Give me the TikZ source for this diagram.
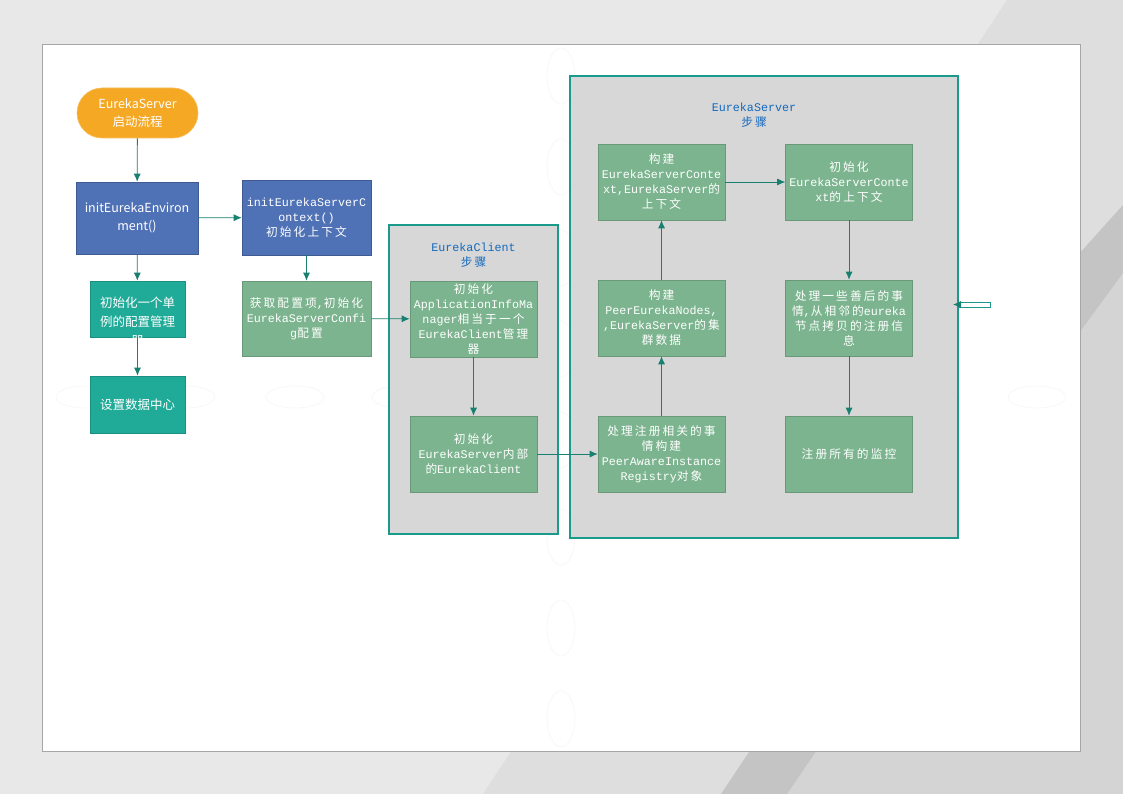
\documentclass[tikz,border=0pt]{standalone}
\usepackage{fontspec}
\usepackage{xcolor}
\usepackage{tikz}
\usetikzlibrary{arrows.meta,positioning,shapes.geometric}
\setmainfont{Noto Sans CJK SC}
\newfontfamily\zhfont[LetterSpace=18]{Noto Sans CJK SC}
\newfontfamily\monofont{Liberation Mono}
\newcommand{\zh}[1]{{\zhfont #1}}
\definecolor{pagegray}{RGB}{232,232,232}
\definecolor{stripegray}{RGB}{222,222,222}
\definecolor{bandgray}{RGB}{196,196,196}
\definecolor{edgegray}{RGB}{212,212,212}
\definecolor{myorange}{RGB}{245,168,35}
\definecolor{myblue}{RGB}{79,113,181}
\definecolor{myteal}{RGB}{32,170,152}
\definecolor{mygreen}{RGB}{123,180,142}
\definecolor{grpgray}{RGB}{215,215,215}
\definecolor{linkteal}{RGB}{24,128,112}
\definecolor{grpteal}{RGB}{26,154,138}
\definecolor{titleblue}{RGB}{20,105,190}

\begin{document}
\begin{tikzpicture}[x=1pt, y=-1pt,
    plainbox/.style={minimum width=122pt, minimum height=72pt, align=center,
        text=white, inner sep=0pt, line width=0.6pt,
        font=\fontsize{12.5}{18}\selectfont},
    startbox/.style={plainbox, rounded corners=25pt, minimum width=121pt,
        minimum height=50pt, fill=myorange, draw=myorange!75!white},
    bluebox/.style={plainbox, fill=myblue, draw=myblue!80!black},
    tealbox/.style={plainbox, minimum width=95pt, minimum height=56pt,
        fill=myteal, draw=myteal!85!black},
    stepbox/.style={plainbox, minimum width=127pt, minimum height=76pt,
        fill=mygreen, draw=mygreen!85!black,
        font=\monofont\fontsize{11.7}{15}\selectfont},
    grpbox/.style={fill=grpgray, draw=grpteal, line width=1.1pt},
    grptitle/.style={text=titleblue, align=center, inner sep=0pt,
        font=\monofont\fontsize{11.7}{15}\selectfont},
    pgmark/.style={draw=black!3, line width=0.7pt},
    flow/.style={-{Latex[length=8pt,width=7pt]}, line width=0.8pt, linkteal}
]
\useasboundingbox (0,0) rectangle (1123,794);
% page background
\fill[pagegray] (0,0) rectangle (1123,794);
\fill[stripegray] (1007,0) -- (1123,0) -- (1123,794) -- (483,794) -- cycle;
\fill[edgegray] (1123,273) -- (1123,794) -- (787,794) -- (817,751)
    -- (1000,700) -- (1000,400) -- (1060,359) -- cycle;
\fill[bandgray] (1123,205) -- (1123,273) -- (1060,359) -- (1060,275) -- cycle;
\fill[bandgray] (757,740) -- (824,740) -- (787,794) -- (721,794) -- cycle;
\draw[fill=white, draw=black!35, line width=0.8pt] (42,44) rectangle (1080,751);
\foreach \yy in {76,167,258,349,440,537,628,719}
    \draw[pgmark] (561,\yy) ellipse (14pt and 28pt);
\foreach \xx in {85,186,295,401,507,613,719,825,931,1037}
    \draw[pgmark] (\xx,397) ellipse (29pt and 11pt);

% groups
\node[grpbox, minimum width=169pt, minimum height=309pt] (clientgrp) at (473.5,379.5) {};
\node[grptitle] (clienttitle) at (473.5,255) {EurekaClient\\\zh{步骤}};
\node[grpbox, minimum width=388pt, minimum height=462pt] (servergrp) at (764,307) {};
\node[grptitle] (servertitle) at (754,115) {EurekaServer\\\zh{步骤}};

% left column
\node[startbox] (start) at (137.5,113) {EurekaServer\\启动流程};
\node[bluebox] (env) at (137,218) {initEurekaEnviron\\ment()};
\node[bluebox, minimum width=129pt, minimum height=75pt,
    font=\monofont\fontsize{11.7}{15}\selectfont] (ctx) at (306.5,217.5)
    {initEurekaServerC\\ontext()\\\zh{初始化上下文}};
\node[tealbox] (single) at (137.5,309) {};
\node[text=white, align=center, font=\fontsize{12.5}{19}\selectfont] (singletxt)
    at (137.5,322) {初始化一个单\\例的配置管理\\器};
\node[tealbox, minimum height=57pt] (dc) at (137.5,404.5) {设置数据中心};
\node[stepbox, minimum width=129pt, minimum height=75pt] (cfg) at (306.5,318.5)
    {\zh{获取配置项},\zh{初始化}\\EurekaServerConfi\\g\zh{配置}};

% client steps
\node[stepbox] (aim) at (473.5,319)
    {\zh{初始化}\\ApplicationInfoMa\\nager\zh{相当于一个}\\EurekaClient\zh{管理}\\\zh{器}};
\node[stepbox] (inner) at (473.5,454)
    {\zh{初始化}\\EurekaServer\zh{内部}\\\zh{的}EurekaClient};

% server steps
\node[stepbox] (bsc) at (661.5,182)
    {\zh{构建}\\EurekaServerConte\\xt,EurekaServer\zh{的}\\\zh{上下文}};
\node[stepbox] (isc) at (849,182)
    {\zh{初始化}\\EurekaServerConte\\xt\zh{的上下文}};
\node[stepbox] (pen) at (661.5,318)
    {\zh{构建}\\PeerEurekaNodes,\\,EurekaServer\zh{的集}\\\zh{群数据}};
\node[stepbox] (after) at (849,318)
    {\zh{处理一些善后的事}\\\zh{情},\zh{从相邻的}eureka\\\zh{节点拷贝的注册信}\\\zh{息}};
\node[stepbox] (reg) at (661.5,454)
    {\zh{处理注册相关的事}\\\zh{情构建}\\PeerAwareInstance\\Registry\zh{对象}};
\node[stepbox] (mon) at (849,454) {\zh{注册所有的监控}};

% stub on the right
\node[draw=grpteal, fill=white, line width=0.8pt, minimum width=32pt,
    minimum height=5pt, inner sep=0pt] (stub) at (974,304.5) {};
\coordinate (stubtip) at (953,304.5);

% connectors
\draw[flow] (start) -- (env); \draw[flow] (env) -- (ctx);
\draw[flow] (env) -- (single); \draw[flow] (single) -- (dc);
\draw[flow] (ctx) -- (cfg); \draw[flow] (cfg) -- (aim);
\draw[flow] (aim) -- (inner); \draw[flow] (inner) -- (reg);
\draw[flow] (reg) -- (pen); \draw[flow] (pen) -- (bsc);
\draw[flow] (bsc) -- (isc); \draw[flow] (isc) -- (after);
\draw[flow] (after) -- (mon); \draw[flow] (stub.west) -- (stubtip);
\end{tikzpicture}
\end{document}
